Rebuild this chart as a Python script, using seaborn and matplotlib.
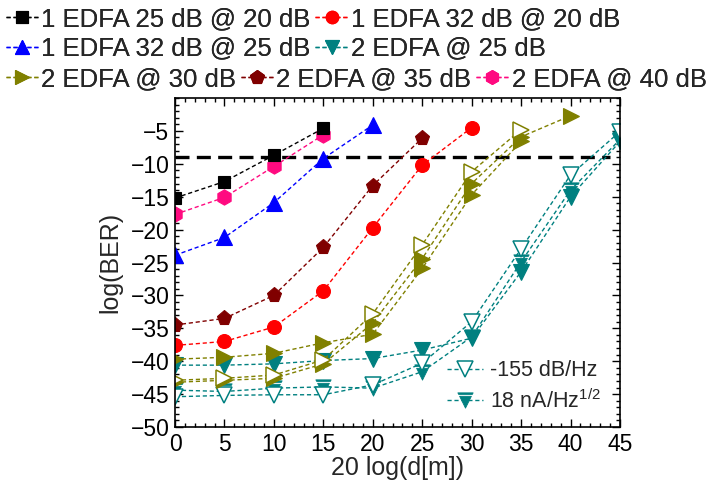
import matplotlib
matplotlib.use("Agg")
import matplotlib.pyplot as plt
import seaborn as sns
import pandas as pd
from matplotlib.path import Path
from matplotlib.lines import Line2D
from matplotlib.ticker import MultipleLocator

# ---------------- data ----------------
x_vals = [0, 5, 10, 15, 20, 25, 30, 35, 40, 45]

edfa1_25_at20 = [-15.2, -12.7, -8.7, -4.6]
edfa1_32_at20 = [-37.6, -37.0, -34.8, -29.3, -19.7, -10.2, -4.5]
edfa1_32_at25 = [-23.9, -21.2, -15.9, -9.2, -4.1]
edfa2_at25 = [-40.6, -40.6, -40.4, -39.9, -39.6, -38.3, -36.5, -26.4, -15.0, -6.6]
edfa2_at30 = [-39.7, -39.4, -38.8, -37.2, -35.9, -25.9, -14.7, -6.6]
edfa2_at35 = [-34.5, -33.5, -30.0, -22.7, -13.3, -6.1]
edfa2_at40 = [-17.7, -15.1, -10.4, -5.6]
edfa2_at30_rin = [-42.9, -42.6, -42.1, -39.8, -32.8, -22.3, -11.2, -4.8]
edfa2_at30_nep = [-43.2, -42.9, -42.6, -40.4, -34.2, -24.4, -13.0, -5.9, -2.7]
edfa2_at25_rin = [-45.4, -45.2, -45.1, -45.1, -43.6, -40.3, -34.0, -22.9, -11.7, -5.1]
edfa2_at25_nep = [-44.4, -44.6, -44.1, -43.9, -44.1, -41.6, -36.3, -24.9, -14.0, -6.3]
threshold = -9.0

labels_main = ["1 EDFA 25 dB @ 20 dB", "1 EDFA 32 dB @ 20 dB",
               "1 EDFA 32 dB @ 25 dB", "2 EDFA @ 25 dB",
               "2 EDFA @ 30 dB", "2 EDFA @ 35 dB", "2 EDFA @ 40 dB"]
labels_noise = ["-155 dB/Hz", "18 nA/Hz$^{1/2}$"]

# ---------------- style ----------------
sns.set_style("ticks")
plt.rcParams["font.family"] = ["Liberation Sans", "DejaVu Sans"]
plt.rcParams["mathtext.fontset"] = "custom"
plt.rcParams["mathtext.rm"] = "Liberation Sans"
plt.rcParams["mathtext.it"] = "Liberation Sans:italic"
plt.rcParams["mathtext.bf"] = "Liberation Sans:bold"

BLACK, RED, BLUE = "#000000", "#ff0000", "#0000ff"
TEAL, OLIVE, MAROON, PINK = "#008080", "#808000", "#800000", "#ff0a80"

# striped down-triangle marker (open top band + filled lower part)
M, L, C = Path.MOVETO, Path.LINETO, Path.CLOSEPOLY
band_verts = [(-1, 1), (1, 1), (0.9, 0.8), (-0.9, 0.8), (-1, 1),
              (-0.77, 0.55), (0.77, 0.55), (0, -1), (-0.77, 0.55)]
band_codes = [M, L, L, L, C, M, L, L, C]
striped_v = Path(band_verts, band_codes)

DASH = (0, (3, 2))

fig = plt.figure(figsize=(7.2, 4.88), dpi=100)
ax = fig.add_axes([175 / 720, 1 - 427 / 488, 445 / 720, 329 / 488])


def series(y, color, marker, ms=9, open_=False, mew=0.8):
    d = pd.DataFrame({"x": x_vals[:len(y)], "y": y})
    sns.lineplot(data=d, x="x", y="y", ax=ax, color=color, marker=marker,
                 markersize=ms, linestyle=DASH, linewidth=1.0,
                 markerfacecolor=("white" if open_ else color),
                 markeredgecolor=color, markeredgewidth=(1.1 if open_ else mew),
                 legend=False, sort=False)


series(edfa2_at25, TEAL, "v", ms=11)
series(edfa2_at25_nep, TEAL, striped_v, ms=11, mew=0.6)
series(edfa2_at25_rin, TEAL, "v", ms=11, open_=True)
series(edfa2_at30, OLIVE, ">", ms=11)
series(edfa2_at30_nep, OLIVE, ">", ms=11)
series(edfa2_at30_rin, OLIVE, ">", ms=11, open_=True)
series(edfa1_32_at20, RED, "o", ms=10)
series(edfa2_at35, MAROON, "p", ms=11)
series(edfa1_32_at25, BLUE, "^", ms=11)
series(edfa2_at40, PINK, "h", ms=11)
series(edfa1_25_at20, BLACK, "s", ms=9)

ax.axhline(threshold, xmin=0, xmax=44 / 45, color="black", lw=2.4,
           linestyle=(0, (4.2, 2.2)), zorder=1)

ax.set_xlim(0, 45)
ax.set_ylim(-50, 0)
ax.set_xticks(range(0, 46, 5))
ax.set_yticks(range(-50, 0, 5))
ax.xaxis.set_minor_locator(MultipleLocator(1))
ax.yaxis.set_minor_locator(MultipleLocator(1))
ax.tick_params(which="both", direction="in", top=True, right=True,
               width=1.0, labelsize=16.5, colors="black")
ax.tick_params(which="major", length=6, pad=4)
ax.tick_params(which="minor", length=3)
for s in ax.spines.values():
    s.set_linewidth(1.2)
    s.set_color("black")
ax.set_xlabel("20 log(d[m])", fontsize=18, labelpad=0)
ax.set_ylabel("log(BER)", fontsize=18, labelpad=6)


def h(color, marker, ms=9, open_=False, mew=0.8):
    return Line2D([], [], color=color, marker=marker, markersize=ms,
                  linestyle=DASH, linewidth=1.0,
                  markerfacecolor=("white" if open_ else color),
                  markeredgecolor=color, markeredgewidth=(1.1 if open_ else mew))


main_handles = [h(BLACK, "s", 8), h(RED, "o", 9), h(BLUE, "^", 10),
                h(TEAL, "v", 10), h(OLIVE, ">", 10), h(MAROON, "p", 10),
                h(PINK, "h", 10)]

leg_kw = dict(frameon=False, fontsize=18.5, handlelength=1.25, handletextpad=0.12,
              columnspacing=0.2, borderpad=0, borderaxespad=0, numpoints=1,
              loc="upper left")
rows = [(0, 2, 0.985), (2, 4, 0.925), (4, 7, 0.862)]
for a, b, yy in rows:
    lg = fig.legend(main_handles[a:b], labels_main[a:b], ncol=b - a,
                    bbox_to_anchor=(0.008, yy), **leg_kw)
    fig.add_artist(lg)

noise_handles = [h(TEAL, "v", 11, open_=True), h(TEAL, striped_v, 11, mew=0.6)]
ax.legend(noise_handles, labels_noise, frameon=False, fontsize=15.5,
          handlelength=1.7, handletextpad=0.3, labelspacing=0.35,
          loc="lower right", bbox_to_anchor=(1.0, -0.015))

fig.savefig("out.png", dpi=100)
